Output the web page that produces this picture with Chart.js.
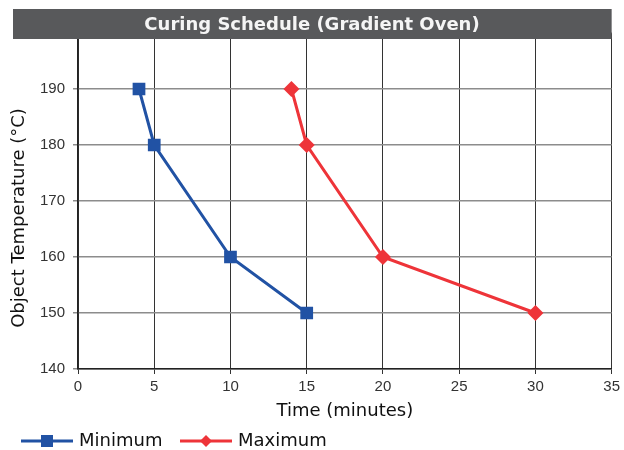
<!DOCTYPE html>
<html>
<head>
<meta charset="utf-8">
<script src="https://cdn.jsdelivr.net/npm/chart.js@4/dist/chart.umd.min.js"></script>
<style>
  html, body { margin: 0; padding: 0; background: #fff; }
</style>
</head>
<body>
<canvas id="curingChart" width="624" height="450"></canvas>
<script>
const chartTitle = 'Curing Schedule (Gradient Oven)';
const xAxisTitle = 'Time (minutes)';
const yAxisTitle = 'Object Temperature (°C)';

// series (time in minutes, temperature in °C)
const seriesNames = ['Minimum', 'Maximum'];
const minTimes = [4, 5, 10, 15];
const minTemps = [190, 180, 160, 150];
const maxTimes = [14, 15, 20, 30];
const maxTemps = [190, 180, 160, 150];

const blue = '#2152a4';
const red = '#ee3439';

function toPoints(xs, ys) {
    return xs.map((x, i) => ({ x: x, y: ys[i] }));
}

// title bar, rotated y title and the legend
const decorPlugin = {
    id: 'decor',
    afterDraw(chart) {
        const ctx = chart.ctx;
        const area = chart.chartArea;
        ctx.save();

        // dark title bar over the top of the plot
        ctx.fillStyle = '#58595b';
        ctx.fillRect(13, 9, area.right - 13, 30);
        ctx.fillStyle = '#f5f5f5';
        ctx.font = 'bold 18px "DejaVu Sans"';
        ctx.textAlign = 'center';
        ctx.textBaseline = 'middle';
        ctx.fillText(chartTitle, 312, 25);

        // y axis title
        ctx.save();
        ctx.translate(19, 218);
        ctx.rotate(-Math.PI / 2);
        ctx.fillStyle = '#111';
        ctx.font = '18px "DejaVu Sans"';
        ctx.fillText(yAxisTitle, 0, 0);
        ctx.restore();

        // legend: line + marker + label
        const ly = 441;
        const items = [
            { x: 21, ds: chart.data.datasets[0] },
            { x: 180, ds: chart.data.datasets[1] },
        ];
        ctx.font = '18px "DejaVu Sans"';
        ctx.textAlign = 'left';
        items.forEach(it => {
            const c = it.ds.borderColor;
            ctx.strokeStyle = c;
            ctx.lineWidth = 3;
            ctx.beginPath();
            ctx.moveTo(it.x, ly);
            ctx.lineTo(it.x + 52, ly);
            ctx.stroke();
            ctx.fillStyle = c;
            const mx = it.x + 26;
            if (it.ds.pointStyle === 'rect') {
                ctx.fillRect(mx - 6, ly - 6, 12, 12);
            } else {
                ctx.beginPath();
                ctx.moveTo(mx, ly - 6);
                ctx.lineTo(mx + 6, ly);
                ctx.lineTo(mx, ly + 6);
                ctx.lineTo(mx - 6, ly);
                ctx.closePath();
                ctx.fill();
            }
            ctx.fillStyle = '#111';
            ctx.fillText(it.ds.label, it.x + 58, ly);
        });
        ctx.restore();
    }
};

function createCuringChart() {
    const ctx = document.getElementById('curingChart').getContext('2d');
    new Chart(ctx, {
        type: 'line',
        data: {
            datasets: [{
                label: seriesNames[0],
                data: toPoints(minTimes, minTemps),
                borderColor: blue,
                backgroundColor: blue,
                borderWidth: 3,
                pointStyle: 'rect',
                pointRadius: 9,
                pointBorderWidth: 0,
                tension: 0,
            }, {
                label: seriesNames[1],
                data: toPoints(maxTimes, maxTemps),
                borderColor: red,
                backgroundColor: red,
                borderWidth: 3,
                pointStyle: 'rectRot',
                pointRadius: 8,
                pointBorderWidth: 0,
                tension: 0,
            }],
        },
        options: {
            responsive: false,
            animation: false,
            layout: { padding: { top: 33, right: 10, left: 0, bottom: 0 } },
            plugins: {
                legend: { display: false },
                title: { display: false },
                tooltip: { enabled: false },
            },
            scales: {
                x: {
                    type: 'linear',
                    min: 0,
                    max: 35,
                    ticks: {
                        stepSize: 5,
                        padding: 4,
                        color: '#333',
                        font: { family: '"Liberation Sans"', size: 15 },
                    },
                    grid: { color: '#333', lineWidth: 1, tickLength: 5 },
                    border: { color: '#222', width: 1.5 },
                    title: {
                        display: true,
                        text: xAxisTitle,
                        color: '#111',
                        font: { family: '"DejaVu Sans"', size: 18 },
                        padding: { top: 0, bottom: 28 },
                    },
                    afterFit: s => { s.height = 81; },
                },
                y: {
                    min: 140,
                    max: 200,
                    ticks: {
                        stepSize: 10,
                        padding: 8,
                        color: '#333',
                        font: { family: '"Liberation Sans"', size: 15 },
                        callback: v => (v >= 200 ? '' : v),
                    },
                    grid: { color: '#8c8c8c', lineWidth: 1.5, tickLength: 5 },
                    border: { color: '#222', width: 1.5 },
                    afterFit: s => { s.width = 78; },
                },
            },
        },
        plugins: [decorPlugin],
    });
}

document.addEventListener('DOMContentLoaded', () => {
    createCuringChart();
});
</script>
</body>
</html>
